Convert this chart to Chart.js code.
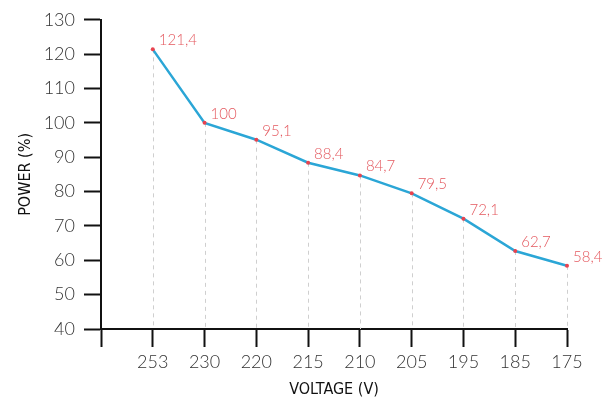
<!DOCTYPE html>
<html lang="en">
<head>
  <meta charset="UTF-8">
  <title>Power vs Voltage</title>
  <script src="https://cdn.jsdelivr.net/npm/chart.js"></script>
  <style>
    body {
      margin: 0;
      background: #fff;
    }
    #wrap {
      width: 613px;
      height: 403px;
    }
  </style>
</head>
<body>
  <div id="wrap"><canvas id="powerChart" width="613" height="403"></canvas></div>

  <script>
    // first slot is left empty, like the original chart
    const voltages = ['', '253', '230', '220', '215', '210', '205', '195', '185', '175'];
    const powerValues = [null, 121.4, 100, 95.1, 88.4, 84.7, 79.5, 72.1, 62.7, 58.4];
    const yMin = 40;
    const yMax = 130;
    const yStep = 10;

    const FONT = "Lato, 'Open Sans', sans-serif";
    const TITLE_FONT = "'Liberation Sans Narrow', 'DejaVu Sans Condensed', sans-serif";

    // dashed drop lines from each point to the x axis + red value labels
    const dropLines = {
      id: 'dropLines',
      beforeDatasetsDraw(chart) {
        const ctx = chart.ctx;
        const meta = chart.getDatasetMeta(0);
        const bottom = chart.chartArea.bottom;
        ctx.save();
        ctx.strokeStyle = '#cfcfcf';
        ctx.lineWidth = 1;
        ctx.setLineDash([4, 4]);
        meta.data.forEach((pt, i) => {
          if (powerValues[i] === null) return;
          ctx.beginPath();
          ctx.moveTo(Math.round(pt.x) + 0.5, pt.y);
          ctx.lineTo(Math.round(pt.x) + 0.5, bottom);
          ctx.stroke();
        });
        ctx.restore();
      },
      afterDatasetsDraw(chart) {
        const ctx = chart.ctx;
        const meta = chart.getDatasetMeta(0);
        ctx.save();
        ctx.fillStyle = '#e4595f';
        ctx.font = '300 15px ' + FONT;
        ctx.textAlign = 'left';
        ctx.textBaseline = 'middle';
        meta.data.forEach((pt, i) => {
          const v = powerValues[i];
          if (v === null) return;
          ctx.fillText(String(v).replace('.', ','), pt.x + 6, pt.y - 9);
        });
        ctx.restore();
      }
    };

    const ctx = document.getElementById('powerChart').getContext('2d');
    const powerChart = new Chart(ctx, {
      type: 'line',
      data: {
        labels: voltages,
        datasets: [{
          label: 'Power',
          data: powerValues,
          borderColor: '#2ba6d6',
          borderWidth: 2.5,
          pointRadius: 2,
          pointBackgroundColor: '#e8434f',
          pointBorderWidth: 0,
          tension: 0,
          spanGaps: false
        }]
      },
      options: {
        responsive: false,
        animation: false,
        layout: {
          padding: { top: 19, right: 46, left: 12, bottom: 0 }
        },
        plugins: {
          legend: { display: false },
          tooltip: { enabled: false }
        },
        scales: {
          x: {
            offset: false,
            afterFit(scale) { scale.height = 74; },
            grid: {
              drawOnChartArea: false,
              drawTicks: true,
              tickLength: 18,
              tickColor: '#111',
              tickWidth: 2,
              offset: false
            },
            border: { display: true, color: '#111', width: 2 },
            ticks: {
              color: '#333',
              padding: 4,
              autoSkip: false,
              maxRotation: 0,
              font: { family: FONT, size: 18, weight: '300' }
            },
            title: {
              display: true,
              text: 'VOLTAGE (V)',
              color: '#111',
              padding: { top: 6 },
              font: { family: TITLE_FONT, size: 16 }
            }
          },
          y: {
            min: yMin,
            max: yMax,
            afterFit(scale) { scale.width = 89; },
            grid: {
              drawOnChartArea: false,
              drawTicks: true,
              tickLength: 17,
              tickColor: '#111',
              tickWidth: 2
            },
            border: { display: true, color: '#111', width: 2 },
            ticks: {
              stepSize: yStep,
              color: '#333',
              padding: 9,
              font: { family: FONT, size: 18, weight: '300' }
            },
            title: {
              display: true,
              text: 'POWER (%)',
              color: '#111',
              padding: { bottom: 2 },
              font: { family: TITLE_FONT, size: 16 }
            }
          }
        }
      },
      plugins: [dropLines]
    });
  </script>
</body>
</html>
